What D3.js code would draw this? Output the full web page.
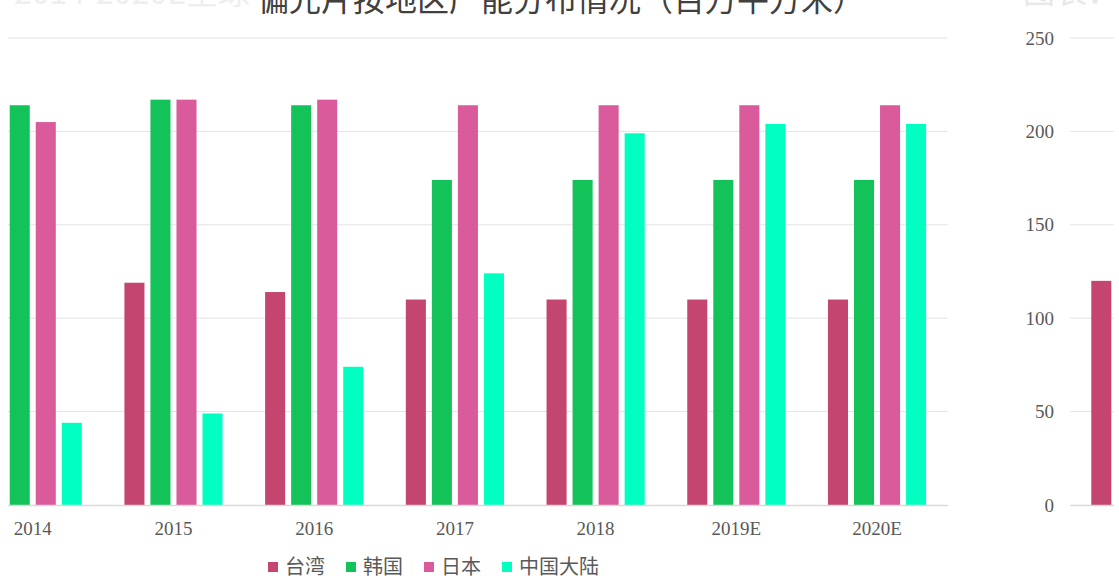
<!DOCTYPE html>
<html><head><meta charset="utf-8">
<script src="https://cdn.jsdelivr.net/npm/d3@7/dist/d3.min.js"></script>
<style>body{margin:0;background:#fff}svg{display:block}</style>
</head><body><svg id="c" width="1119" height="584"></svg>
<script>
const categories = ["2014","2015","2016","2017","2018","2019E","2020E"];
const seriesNames = ["台湾","韩国","日本","中国大陆"];
const taiwan = [120,119,114,110,110,110,110];
const korea  = [214,217,214,174,174,174,174];
const japan  = [205,217,217,214,214,214,214];
const china  = [44,49,74,124,199,204,204];
const yTicks = [0,50,100,150,200,250];
const colors = ["#C4456F","#13C35A","#D95B9B","#02FFC2"];
const titlePrefix = "图表：2014-2020E全球";
const titleMain = "偏光片按地区产能分布情况（百万平方米）";

const values = [taiwan, korea, japan, china];
const svg = d3.select("#c");
const plotW = 985, plotTop = 38, plotBottom = 505;

const defs = svg.append("defs");
defs.append("clipPath").attr("id","clipA").append("rect").attr("x",8).attr("y",20).attr("width",960).attr("height",564);
defs.append("clipPath").attr("id","clipB").append("rect").attr("x",990).attr("y",20).attr("width",124).attr("height",564);

function drawChart(g, showY, showX){
  const x0 = d3.scaleBand().domain(categories).range([0, plotW]).paddingInner(0.26).paddingOuter(0.13);
  const x1 = d3.scaleBand().domain(seriesNames).range([0, x0.bandwidth()]).paddingInner(0.23).paddingOuter(0.115);
  const y = d3.scaleLinear().domain([0,250]).range([plotBottom, plotTop]);

  g.append("g").selectAll("line").data(yTicks.filter(t=>t>0)).join("line")
    .attr("x1",0).attr("x2",plotW).attr("y1",d=>y(d)).attr("y2",d=>y(d))
    .attr("stroke","#e3e3e3").attr("stroke-width",1);
  if(showY){
    const ya = g.append("g").call(d3.axisLeft(y).tickValues(yTicks).tickSize(0).tickPadding(16));
    ya.select(".domain").remove();
    ya.selectAll("text").attr("font-family","Liberation Serif, serif").attr("font-size",19).attr("fill","#595959");
  }
  categories.forEach((c,i)=>{
    seriesNames.forEach((s,j)=>{
      g.append("rect").attr("x",x0(c)+x1(s)).attr("width",x1.bandwidth())
        .attr("y",y(values[j][i])).attr("height",y(0)-y(values[j][i])).attr("fill",colors[j]);
    });
  });
  const xa = g.append("g").attr("transform",`translate(0,${plotBottom})`).call(d3.axisBottom(x0).tickSize(0).tickPadding(17));
  xa.select(".domain").attr("stroke","#d9d9d9").attr("stroke-width",1.5);
  if(showX){
    xa.selectAll("text").attr("font-family","Liberation Serif, serif").attr("font-size",19).attr("fill","#595959");
  } else {
    xa.selectAll("text").remove();
  }
}

const gA = svg.append("g").attr("clip-path","url(#clipA)").append("g").attr("transform","translate(-37.6,0)");
drawChart(gA, false, true);
const gB = svg.append("g").attr("clip-path","url(#clipB)").append("g").attr("transform","translate(1070,0)");
drawChart(gB, true, false);

svg.append("text").attr("x",250).attr("y",4).attr("text-anchor","end")
  .attr("font-family","Noto Sans CJK SC").attr("font-size",32).attr("fill","#eeeeee").text(titlePrefix);
svg.append("text").attr("x",1119).attr("y",3).attr("text-anchor","end")
  .attr("font-family","Noto Sans CJK SC").attr("font-size",32).attr("fill","#e8e8e8").text("图表：");
svg.append("text").attr("x",257).attr("y",11)
  .attr("font-family","Noto Sans CJK SC").attr("font-size",32).attr("fill","#404040").text(titleMain);

const leg = svg.append("g").attr("transform","translate(268,567)");
let lx = 0;
seriesNames.forEach((s,j)=>{
  leg.append("rect").attr("x",lx).attr("y",-5).attr("width",10).attr("height",10).attr("fill",colors[j]);
  const t = leg.append("text").attr("x",lx+17).attr("y",7).attr("font-family","Noto Sans CJK SC")
    .attr("font-size",20).attr("fill","#595959").text(s);
  lx += 17 + t.node().getComputedTextLength() + 21;
});
</script></body></html>
